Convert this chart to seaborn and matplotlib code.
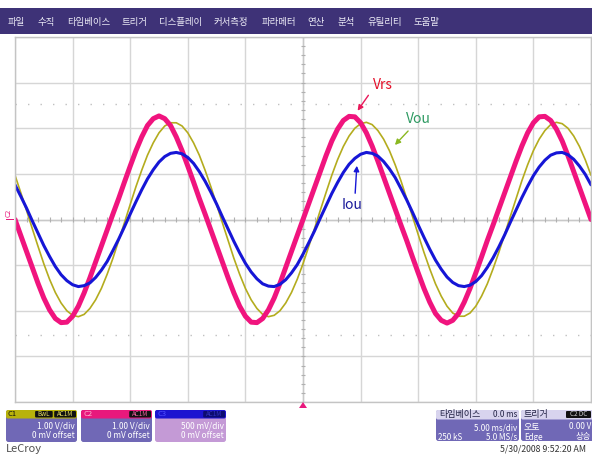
import numpy as np
import matplotlib
matplotlib.use("Agg")
import matplotlib.pyplot as plt
import seaborn as sns
from matplotlib.patches import FancyBboxPatch, FancyArrowPatch, Rectangle, Polygon
from matplotlib.transforms import IdentityTransform

# ---- data (time in ms, 5 ms/div; values in divisions) ----
time_ms = np.arange(-25, 25.01, 0.5)

# C2 - Vrs (pink)
vrs_div = [0.00, -0.35, -0.70, -1.05, -1.40, -1.72, -1.98, -2.17, -2.26, -2.25,
           -2.12, -1.90, -1.61, -1.28, -0.93, -0.58, -0.23, 0.12, 0.46, 0.82,
           1.17, 1.51, 1.81, 2.06, 2.21, 2.27, 2.21, 2.06, 1.81, 1.51,
           1.17, 0.82, 0.46, 0.12, -0.23, -0.58, -0.93, -1.28, -1.61, -1.90,
           -2.12, -2.25, -2.26, -2.17, -1.98, -1.72, -1.40, -1.05, -0.70, -0.35,
           0.00,
           0.35, 0.70, 1.05, 1.40, 1.72, 1.98, 2.17, 2.26, 2.25, 2.12,
           1.90, 1.61, 1.28, 0.93, 0.58, 0.23, -0.12, -0.46, -0.82, -1.17,
           -1.51, -1.81, -2.06, -2.21, -2.27, -2.21, -2.06, -1.81, -1.51, -1.17,
           -0.82, -0.46, -0.12, 0.23, 0.58, 0.93, 1.28, 1.61, 1.90, 2.12,
           2.25, 2.26, 2.17, 1.98, 1.72, 1.40, 1.05, 0.70, 0.35, 0.00]

# C1 - Vou (olive)
vou_div = [0.97, 0.59, 0.20, -0.20, -0.59, -0.97, -1.31, -1.60, -1.83, -2.00,
           -2.10, -2.13, -2.08, -1.95, -1.76, -1.51, -1.20, -0.85, -0.46, -0.07,
           0.33, 0.72, 1.08, 1.41, 1.68, 1.90, 2.05, 2.12, 2.12, 2.05,
           1.90, 1.68, 1.41, 1.08, 0.72, 0.33, -0.07, -0.46, -0.85, -1.20,
           -1.51, -1.76, -1.95, -2.08, -2.13, -2.10, -2.00, -1.83, -1.60, -1.31,
           -0.97,
           -0.59, -0.20, 0.20, 0.59, 0.97, 1.31, 1.60, 1.83, 2.00, 2.10,
           2.13, 2.08, 1.95, 1.76, 1.51, 1.20, 0.85, 0.46, 0.07, -0.33,
           -0.72, -1.08, -1.41, -1.68, -1.90, -2.05, -2.12, -2.12, -2.05, -1.90,
           -1.68, -1.41, -1.08, -0.72, -0.33, 0.07, 0.46, 0.85, 1.20, 1.51,
           1.76, 1.95, 2.08, 2.13, 2.10, 2.00, 1.83, 1.60, 1.31, 0.97]

# C3 - Iou (blue)
iou_div = [0.76, 0.51, 0.25, -0.03, -0.30, -0.57, -0.81, -1.03, -1.21, -1.34,
           -1.43, -1.47, -1.45, -1.39, -1.27, -1.11, -0.92, -0.68, -0.43, -0.16,
           0.12, 0.39, 0.65, 0.89, 1.09, 1.26, 1.38, 1.45, 1.47, 1.44,
           1.36, 1.23, 1.05, 0.84, 0.60, 0.34, 0.06, -0.21, -0.48, -0.73,
           -0.96, -1.15, -1.30, -1.41, -1.46, -1.47, -1.42, -1.32, -1.17, -0.99,
           -0.76,
           -0.51, -0.25, 0.03, 0.30, 0.57, 0.81, 1.03, 1.21, 1.34, 1.43,
           1.47, 1.45, 1.39, 1.27, 1.11, 0.92, 0.68, 0.43, 0.16, -0.12,
           -0.39, -0.65, -0.89, -1.09, -1.26, -1.38, -1.45, -1.47, -1.44, -1.36,
           -1.23, -1.05, -0.84, -0.60, -0.34, -0.06, 0.21, 0.48, 0.73, 0.96,
           1.15, 1.30, 1.41, 1.46, 1.47, 1.42, 1.32, 1.17, 0.99, 0.76]

menu_labels = ["파일", "수직", "타임베이스", "트리거", "디스플레이", "커서측정",
               "파라메터", "연산", "분석", "유틸리티", "도움말"]

ch_names = ["C1", "C2", "C3"]
ch_scale = ["1.00 V/div", "1.00 V/div", "500 mV/div"]
ch_offset = ["0 mV offset", "0 mV offset", "0 mV offset"]

# ---- style ----
sns.set_style("white")
plt.rcParams['font.family'] = ['Noto Sans CJK KR', 'DejaVu Sans']

W, H = 592, 454
fig = plt.figure(figsize=(W / 100, H / 100), dpi=100)
fig.patch.set_facecolor("white")
PX = IdentityTransform()


def box(x0, y0, x1, y1, color, r=2.5, ec="none"):
    p = FancyBboxPatch((x0, H - y1), x1 - x0, y1 - y0,
                       boxstyle=f"round,pad=0,rounding_size={r}",
                       transform=PX, fc=color, ec=ec, lw=0.6)
    fig.add_artist(p)


def txt(x, y, s, **kw):
    fig.text(x, H - y, s, transform=PX, va="center", **kw)


# menu bar
fig.add_artist(Rectangle((0, H - 34), W, 26, transform=PX, fc="#3e3277", ec="none"))
menu_x = [8, 38, 67, 121, 159, 214, 262, 307, 337, 367, 413]
for lab, x in zip(menu_labels, menu_x):
    txt(x, 22.5, lab, color="#ecebf6", fontsize=6.8)

# ---- scope grid ----
ax = fig.add_axes([15 / W, 1 - 402 / H, 576 / W, 365 / H])
ax.set_xlim(-25, 25)
ax.set_ylim(-4, 4)
ax.set_xticks(np.arange(-25, 26, 5))
ax.set_yticks(np.arange(-4, 5, 1))
ax.grid(True, color="#d6d6d6", lw=1)
ax.tick_params(length=0, labelbottom=False, labelleft=False)
for s in ax.spines.values():
    s.set_color("#c4c4c4")
    s.set_linewidth(1)
ax.axhline(0, color="#c8c8c8", lw=1)
ax.axvline(0, color="#c8c8c8", lw=1)
ax.vlines(np.arange(-25, 25.01, 1), -0.05, 0.05, color="#b0b0b0", lw=0.8)
ax.hlines(np.arange(-4, 4.01, 0.2), -0.18, 0.18, color="#b0b0b0", lw=0.8)
for yy in (2.53, -2.53):
    ax.axhline(yy, color="#c0c0c0", lw=1, ls=(0, (1, 8)))

# ---- waveforms ----
sns.lineplot(x=time_ms, y=vou_div, ax=ax, color="#b4ac1e", lw=1.2, estimator=None, sort=False)
sns.lineplot(x=time_ms, y=vrs_div, ax=ax, color="#f0147e", lw=3.6, estimator=None, sort=False)
sns.lineplot(x=time_ms, y=iou_div, ax=ax, color="#1616d6", lw=2.2, estimator=None, sort=False)

# annotations
txt(383, 85, "Vrs", color="#e4102a", fontsize=10, ha="center")
txt(418, 119, "Vou", color="#2e9a62", fontsize=10, ha="center")
txt(352, 205, "Iou", color="#1a1a9a", fontsize=10, ha="center")
for (x0, y0), (x1, y1), c in [((370, 93), (356, 113), "#e8185a"),
                              ((410, 129), (393, 147), "#8ab820"),
                              ((355, 196), (357, 163), "#1616d6")]:
    fig.add_artist(FancyArrowPatch((x0, H - y0), (x1, H - y1), transform=PX,
                                   arrowstyle="-|>", mutation_scale=8, color=c, lw=1))

# channel marker and trigger marker
txt(9, 213, "C2", color="#e8187c", fontsize=5, rotation=90, ha="center")
fig.add_artist(Rectangle((6, H - 220), 8, 1.2, transform=PX, fc="#e8187c", ec="none"))
fig.add_artist(Polygon([(299, H - 408), (307, H - 408), (303, H - 402)],
                       transform=PX, fc="#e8187c", ec="none"))

# ---- channel boxes ----
headers = ["#b8b20c", "#e8187c", "#1c14d0"]
bodies = ["#7068b6", "#7068b6", "#c49ad6"]
name_col = ["#101010", "#ffb0d0", "#5050ff"]
badge_col = ["#e8e060", "#f060a0", "#3030c0"]
badges = [["BwL", "AC1M"], ["AC1M"], ["AC1M"]]
lefts = [6, 81, 155]
for i, x0 in enumerate(lefts):
    x1 = x0 + 71
    box(x0, 410, x1, 442, bodies[i])
    box(x0, 410, x1, 418.5, headers[i], r=2)
    txt(x0 + 2, 414, ch_names[i], color=name_col[i], fontsize=5.5)
    bx = x1 - 1
    for b in reversed(badges[i]):
        w = 5 + 4.2 * len(b)
        box(bx - w, 411, bx, 417.5, "#111111" if i < 2 else "#0c0c70", r=1)
        txt(bx - w / 2, 414.3, b, color=badge_col[i], fontsize=4.5, ha="center")
        bx -= w + 1.5
    txt(x1 - 2, 426, ch_scale[i], color="white", fontsize=6, ha="right")
    txt(x1 - 2, 435, ch_offset[i], color="white", fontsize=6, ha="right")

txt(6, 449, "LeCroy", color="#505050", fontsize=8)

# timebase box
box(436, 410, 519, 441, "#7068b6")
box(436, 410, 519, 419.5, "#d8d4ee", r=2)
txt(439, 414.5, "타임베이스", color="#222244", fontsize=6.5)
txt(517, 414.5, "0.0 ms", color="#222244", fontsize=5.8, ha="right")
txt(517, 428, "5.00 ms/div", color="white", fontsize=5.8, ha="right")
txt(438, 437, "250 kS", color="white", fontsize=5.8)
txt(517, 437, "5.0 MS/s", color="white", fontsize=5.8, ha="right")

# trigger box
box(521, 410, 598, 441, "#7068b6")
box(521, 410, 598, 419.5, "#d8d4ee", r=2)
txt(524, 414.5, "트리거", color="#222244", fontsize=6.5)
box(566, 411, 591, 418, "#111111", r=1)
txt(578.5, 414.5, "C2 DC", color="#d0d0d0", fontsize=4.5, ha="center")
txt(524, 426.5, "오토", color="white", fontsize=6.5)
txt(591, 426.5, "0.00 V", color="white", fontsize=5.8, ha="right")
txt(524, 437, "Edge", color="white", fontsize=5.8)
txt(591, 437, "상승", color="white", fontsize=6, ha="right")

txt(586, 449, "5/30/2008 9:52:20 AM", color="#333333", fontsize=6.3, ha="right")

fig.savefig("out.png", dpi=100)
